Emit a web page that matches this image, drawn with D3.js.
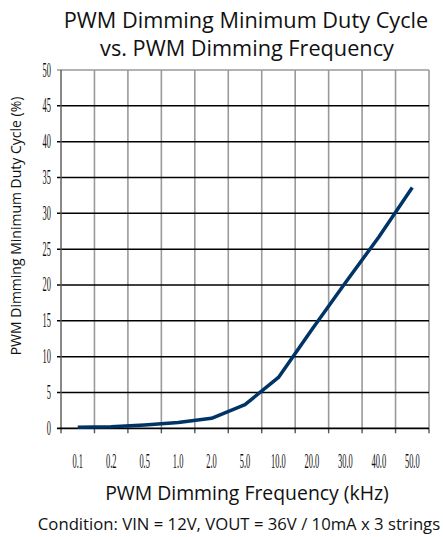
<!DOCTYPE html>
<html><head><meta charset="utf-8">
<script src="https://cdn.jsdelivr.net/npm/d3@7"></script>
<style>body{margin:0;background:#fff}svg{display:block}text{fill:#111}</style>
</head><body>
<svg id="c" width="443" height="537"></svg>
<script>
const categories = ["0.1","0.2","0.5","1.0","2.0","5.0","10.0","20.0","30.0","40.0","50.0"];
const dutyCycle = [0.15,0.2,0.45,0.8,1.4,3.3,7.1,13.8,20.3,26.7,33.6];
const yTicks = [0,5,10,15,20,25,30,35,40,45,50];

const svg = d3.select("#c");
const L = 61, R = 429, T = 70, B = 428.3;
const x = d3.scaleBand().domain(categories).range([L, R]).padding(0);
const y = d3.scaleLinear().domain([0, 50]).range([B, T]);

const bounds = categories.map(c => x(c)).concat([R]);
svg.append("g").selectAll("line").data(bounds.slice(1)).join("line")
  .attr("x1", d => d).attr("x2", d => d).attr("y1", T).attr("y2", B)
  .attr("stroke", "#9a9a9a").attr("stroke-width", 1.6);
svg.append("g").selectAll("line").data(yTicks.filter(v => v > 0 && v < 50)).join("line")
  .attr("x1", L - 4).attr("x2", R).attr("y1", d => y(d)).attr("y2", d => y(d))
  .attr("stroke", "#000").attr("stroke-width", 1.5);
svg.append("line").attr("x1", L - 4).attr("x2", R).attr("y1", y(50)).attr("y2", y(50))
  .attr("stroke", "#9a9a9a").attr("stroke-width", 1.6);
svg.append("line").attr("x1", L).attr("x2", L).attr("y1", T).attr("y2", B + 5)
  .attr("stroke", "#555").attr("stroke-width", 1.4);
svg.append("g").selectAll("line").data(bounds.slice(1)).join("line")
  .attr("x1", d => d).attr("x2", d => d).attr("y1", B).attr("y2", B + 5)
  .attr("stroke", "#555").attr("stroke-width", 1.4);
svg.append("line").attr("x1", L - 4).attr("x2", R).attr("y1", y(0)).attr("y2", y(0))
  .attr("stroke", "#000").attr("stroke-width", 1.8);

svg.append("g").selectAll("text").data(yTicks).join("text")
  .attr("transform", d => `translate(${51},${y(d) + 6.5}) scale(0.42,1)`)
  .attr("text-anchor", "end")
  .style("font-family", "Liberation Serif").style("font-size", "20px")
  .text(d => d);
svg.append("g").selectAll("text").data(categories).join("text")
  .attr("transform", d => `translate(${x(d) + x.bandwidth() / 2},${467.5}) scale(0.42,1)`)
  .attr("text-anchor", "middle")
  .style("font-family", "Liberation Serif").style("font-size", "20px")
  .text(d => d);

const line = d3.line().x((d, i) => x(categories[i]) + x.bandwidth() / 2).y(d => y(d));
svg.append("path").datum(dutyCycle).attr("d", line)
  .attr("fill", "none").attr("stroke", "#003366").attr("stroke-width", 3.5)
  .attr("stroke-linejoin", "round");

const ff = "'Open Sans', sans-serif";
svg.append("text").attr("x", 246).attr("y", 28).attr("text-anchor", "middle")
  .style("font-family", ff).style("font-size", "21.7px").text("PWM Dimming Minimum Duty Cycle");
svg.append("text").attr("x", 247).attr("y", 56).attr("text-anchor", "middle")
  .style("font-family", ff).style("font-size", "21.7px").text("vs. PWM Dimming Frequency");
svg.append("text").attr("transform", "translate(21,226) rotate(-90)").attr("text-anchor", "middle")
  .style("font-family", ff).style("font-size", "14px").text("PWM Dimming Minimum Duty Cycle (%)");
svg.append("text").attr("x", 247).attr("y", 500).attr("text-anchor", "middle")
  .style("font-family", ff).style("font-size", "19.4px").text("PWM Dimming Frequency (kHz)");
svg.append("text").attr("x", 239).attr("y", 530).attr("text-anchor", "middle")
  .style("font-family", ff).style("font-size", "16.7px").text("Condition: VIN = 12V, VOUT = 36V / 10mA x 3 strings");
</script>
</body></html>
